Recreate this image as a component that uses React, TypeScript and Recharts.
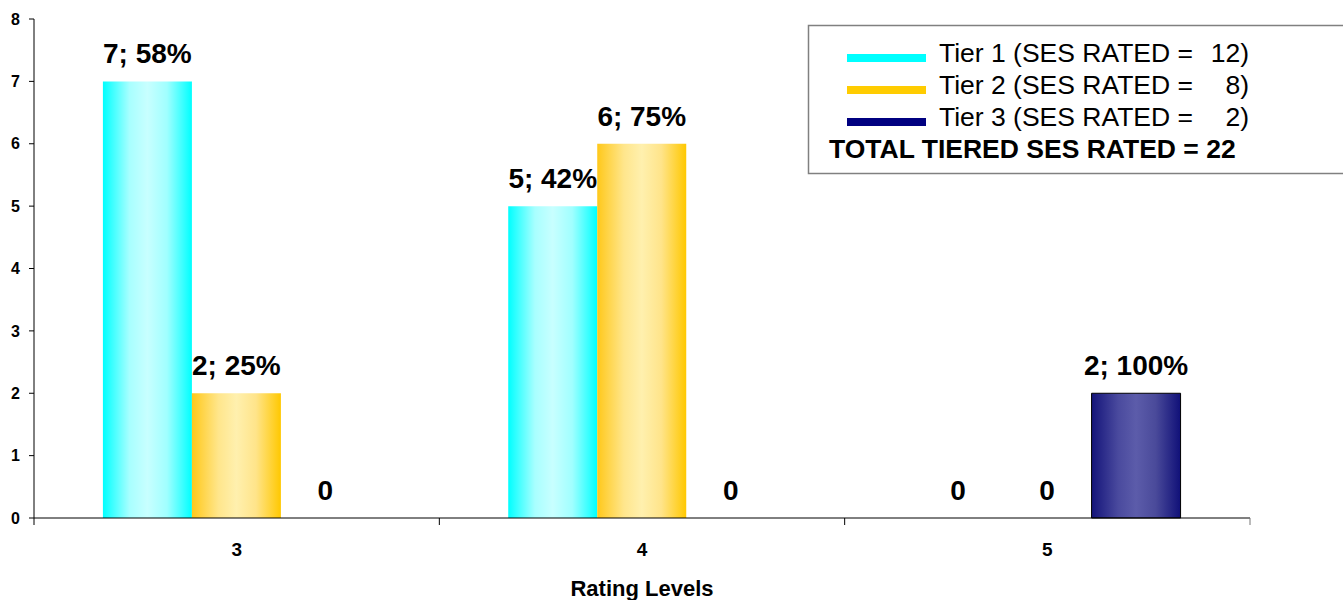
import React from 'react';
import { BarChart, Bar, XAxis, YAxis, LabelList, Cell } from 'recharts';

const categories = ['3', '4', '5'];
const tier1 = [7, 5, 0];
const tier2 = [2, 6, 0];
const tier3 = [0, 0, 2];
const tierNames = ['Tier 1', 'Tier 2', 'Tier 3'];
const tierTotals = [12, 8, 2];
const tierColors = ['#00FFFF', '#FFCC00', '#000080'];
const yTicks = [0, 1, 2, 3, 4, 5, 6, 7, 8];
const xTitle = 'Rating Levels';

const FONT = "Arial, 'Liberation Sans', sans-serif";

const data = categories.map((c, i) => ({ rating: c, t1: tier1[i], t2: tier2[i], t3: tier3[i] }));

const fmt = (total: number) => (v: any) => {
  const n = Number(v);
  if (n === 0) return '0';
  return `${n}; ${Math.round((n / total) * 100)}%`;
};

const TICK_SIZE = 7;
const TICK_MARGIN = 18;

const XTick = (props: any) => {
  const { x, y, payload, index, visibleTicksCount } = props;
  const half = payload && payload.offset ? payload.offset : 0;
  const axisY = y - TICK_SIZE - TICK_MARGIN;
  return (
    <g>
      <line x1={x - half} x2={x - half} y1={axisY} y2={axisY + TICK_SIZE} stroke="#000" />
      {index === visibleTicksCount - 1 && (
        <line x1={x + half} x2={x + half} y1={axisY} y2={axisY + TICK_SIZE} stroke="#777" />
      )}
      <text x={x} y={y} dy="0.71em" textAnchor="middle" fontSize={19} fontWeight="bold" fontFamily={FONT} fill="#000">
        {payload.value}
      </text>
    </g>
  );
};

const labelStyle = { fontSize: 28, fontWeight: 'bold' as const, fontFamily: FONT, fill: '#000' };

const minSize = (v: any) => (Number(v) === 0 ? 0.01 : 0);

export default function App() {
  const grandTotal = tierTotals.reduce((a, b) => a + b, 0);
  return (
    <div style={{ position: 'absolute', left: 0, top: 0, width: 1343, height: 600, overflow: 'hidden', background: '#fff', fontFamily: FONT }}>
      <BarChart
        width={1343}
        height={600}
        data={data}
        margin={{ top: 19, right: 93, bottom: 0, left: 0 }}
        barCategoryGap="17%"
        barGap={0}
      >
        <defs>
          <linearGradient id="g1" x1="0" y1="0" x2="1" y2="0">
            <stop offset="0" stopColor="#00FFFF" />
            <stop offset="0.3" stopColor="#A8FFFF" />
            <stop offset="0.5" stopColor="#C8FFFF" />
            <stop offset="0.72" stopColor="#A0FFFF" />
            <stop offset="1" stopColor="#00FFFF" />
          </linearGradient>
          <linearGradient id="g2" x1="0" y1="0" x2="1" y2="0">
            <stop offset="0" stopColor="#FFC81A" />
            <stop offset="0.3" stopColor="#FFE68C" />
            <stop offset="0.5" stopColor="#FFF0AE" />
            <stop offset="0.72" stopColor="#FFE48A" />
            <stop offset="1" stopColor="#FFC800" />
          </linearGradient>
          <linearGradient id="g3" x1="0" y1="0" x2="1" y2="0">
            <stop offset="0" stopColor="#14147A" />
            <stop offset="0.3" stopColor="#4A4A9E" />
            <stop offset="0.5" stopColor="#5C5CAA" />
            <stop offset="0.72" stopColor="#4A4A9A" />
            <stop offset="1" stopColor="#101078" />
          </linearGradient>
        </defs>
        <XAxis
          dataKey="rating"
          height={82}
          tickLine={false}
          tickSize={TICK_SIZE}
          tickMargin={TICK_MARGIN}
          axisLine={{ stroke: '#000' }}
          tick={<XTick />}
          interval={0}
          label={{ value: xTitle, position: 'insideBottom', offset: 4, style: { fontSize: 22, fontWeight: 'bold', fontFamily: FONT, fill: '#000' } }}
        />
        <YAxis
          width={34}
          domain={[0, 8]}
          ticks={yTicks}
          interval={0}
          tickSize={5}
          tickMargin={9}
          axisLine={{ stroke: '#000' }}
          tickLine={{ stroke: '#000' }}
          tick={{ fontSize: 16, fontWeight: 'bold', fontFamily: FONT, fill: '#000' }}
        />
        <Bar dataKey="t1" fill="url(#g1)" minPointSize={minSize} isAnimationActive={false}>
          {tier1.map((v, i) => (
            <Cell key={i} fill={v === 0 ? 'transparent' : 'url(#g1)'} />
          ))}
          <LabelList dataKey="t1" position="top" offset={18} formatter={fmt(tierTotals[0])} style={labelStyle} />
        </Bar>
        <Bar dataKey="t2" fill="url(#g2)" minPointSize={minSize} isAnimationActive={false}>
          {tier2.map((v, i) => (
            <Cell key={i} fill={v === 0 ? 'transparent' : 'url(#g2)'} />
          ))}
          <LabelList dataKey="t2" position="top" offset={18} formatter={fmt(tierTotals[1])} style={labelStyle} />
        </Bar>
        <Bar dataKey="t3" fill="url(#g3)" minPointSize={minSize} isAnimationActive={false}>
          {tier3.map((v, i) => (
            <Cell key={i} fill={v === 0 ? 'transparent' : 'url(#g3)'} stroke={v === 0 ? 'none' : '#000'} strokeWidth={1} />
          ))}
          <LabelList dataKey="t3" position="top" offset={18} formatter={fmt(tierTotals[2])} style={labelStyle} />
        </Bar>
      </BarChart>
      <svg width={1343} height={600} style={{ position: 'absolute', left: 0, top: 0, pointerEvents: 'none' }}>
        <rect x={808.5} y={25.5} width={560} height={148} fill="#fff" stroke="#808080" strokeWidth={1.5} />
        {tierNames.map((name, i) => (
          <g key={name}>
            <rect x={847} y={54 + i * 32} width={79} height={8} fill={tierColors[i]} />
            <text x={939} y={62 + i * 32} fontSize={26.5} fontFamily={FONT} fill="#000">
              {`${name} (SES RATED =`}
            </text>
            <text x={1249} y={62 + i * 32} fontSize={26.5} fontFamily={FONT} fill="#000" textAnchor="end">
              {`${tierTotals[i]})`}
            </text>
          </g>
        ))}
        <text x={829} y={158} fontSize={26.5} fontWeight="bold" fontFamily={FONT} fill="#000">{`TOTAL TIERED SES RATED = ${grandTotal}`}</text>
      </svg>
    </div>
  );
}
